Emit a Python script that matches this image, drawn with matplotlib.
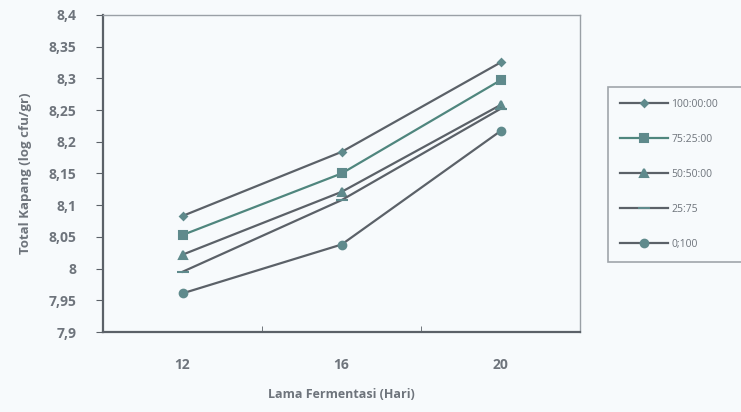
import matplotlib
matplotlib.use("Agg")
import matplotlib.pyplot as plt
from matplotlib.ticker import FixedLocator

# ------------------------------
#   Data
# ------------------------------
days = ["12", "16", "20"]
s_100 = [8.083, 8.184, 8.325]
s_75 = [8.053, 8.150, 8.297]
s_50 = [8.022, 8.121, 8.258]
s_25 = [7.995, 8.108, 8.252]
s_0 = [7.961, 8.038, 8.217]
names = ["100:00:00", "75:25:00", "50:50:00", "25:75", "0;100"]
y_ticks = [7.9, 7.95, 8.0, 8.05, 8.1, 8.15, 8.2, 8.25, 8.3, 8.35, 8.4]

line_col = "#5b6168"
mark_col = "#5f8a8c"
text_col = "#6e747c"
bg = "#f7fafc"

plt.rcParams["font.family"] = ["Open Sans", "DejaVu Sans"]

fig = plt.figure(figsize=(7.41, 4.12), dpi=100, facecolor=bg)
ax = fig.add_axes([0.139, 0.194, 0.644, 0.77])
ax.set_facecolor(bg)

x = range(len(days))
series = [s_100, s_75, s_50, s_25, s_0]
markers = ["D", "s", "^", "_", "o"]
msizes = [3.5, 5.5, 5.5, 8, 5.5]
lcols = [line_col, "#4f867e", line_col, line_col, line_col]

for vals, nm, mk, ms, lc in zip(series, names, markers, msizes, lcols):
    ax.plot(x, vals, color=lc, lw=1.6, marker=mk, markersize=ms,
            markerfacecolor=mark_col, markeredgecolor=mark_col,
            markeredgewidth=1.5, label=nm)

ax.set_xlim(-0.5, 2.5)
ax.set_ylim(7.9, 8.4)
ax.set_xticks(list(x))
ax.set_xticklabels(days)
ax.xaxis.set_minor_locator(FixedLocator([0.5, 1.5]))
ax.tick_params(axis="x", which="major", length=0, pad=19)
ax.tick_params(axis="x", which="minor", length=4, color=line_col, direction="in")
ax.set_yticks(y_ticks)
ax.set_yticklabels([f"{v:g}".replace(".", ",") for v in y_ticks])
ax.tick_params(axis="y", length=5, color=line_col, direction="out", pad=14)

for lab in ax.get_xticklabels() + ax.get_yticklabels():
    lab.set_color(text_col)
    lab.set_fontweight("bold")
    lab.set_fontsize(10)

for side in ["left", "bottom"]:
    ax.spines[side].set_color(line_col)
    ax.spines[side].set_linewidth(1.6)
for side in ["top", "right"]:
    ax.spines[side].set_color("#9aa0a6")
    ax.spines[side].set_linewidth(1.0)

ax.set_xlabel("Lama Fermentasi (Hari)", color=text_col, fontweight="bold",
              fontsize=9, labelpad=11)
ax.set_ylabel("Total Kapang (log cfu/gr)", color=text_col, fontweight="bold",
              fontsize=9.5, labelpad=12)

leg = fig.legend(loc="upper left", bbox_to_anchor=(0.814, 0.365, 0.25, 0.437),
                 mode="expand", frameon=True, fancybox=False, fontsize=7.5,
                 handlelength=4.6, labelspacing=2.3, borderpad=1.15,
                 handletextpad=0.3, labelcolor=text_col)
leg.get_frame().set_edgecolor("#8a9096")
leg.get_frame().set_facecolor(bg)
leg.get_frame().set_linewidth(1.2)

fig.savefig("out.png", dpi=100, facecolor=bg)
